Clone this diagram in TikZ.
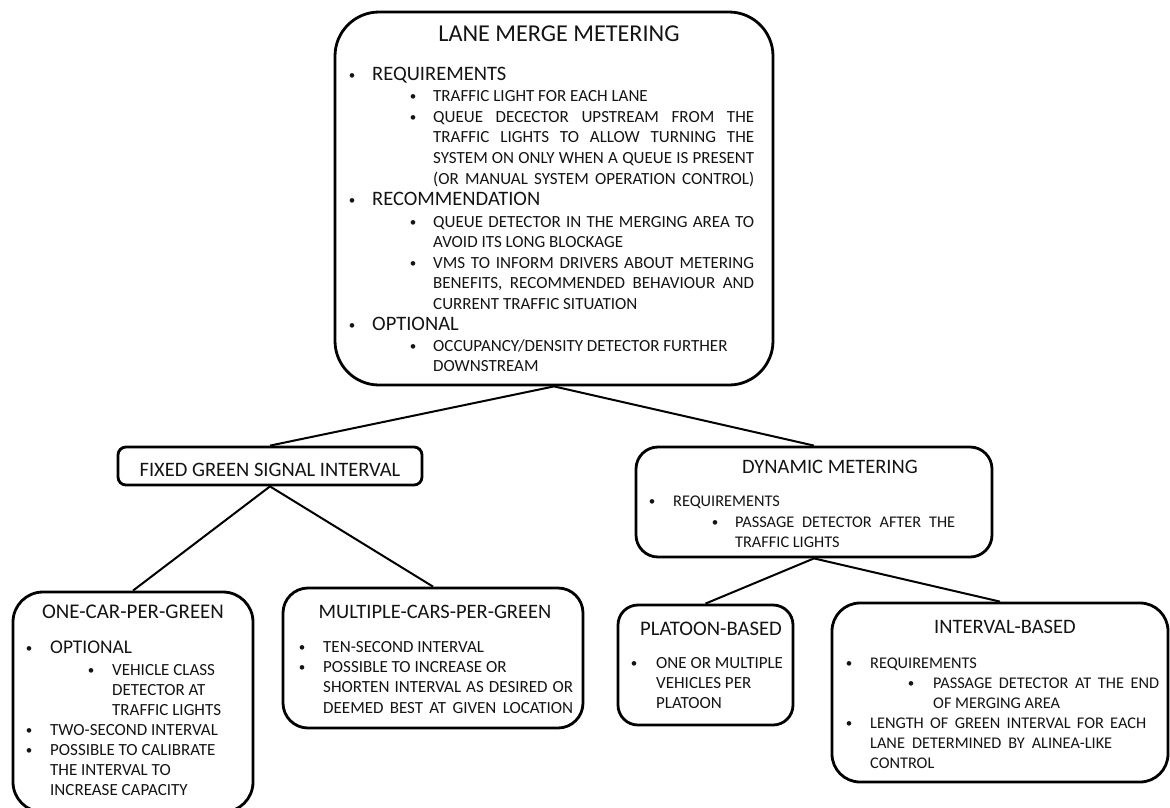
\documentclass[tikz,border=0pt]{standalone}
\usepackage{fontspec}
\setmainfont{Carlito}
\newcommand\fT{\fontsize{24.2}{28}\selectfont}
\newcommand\fH{\fontsize{20.5}{24}\selectfont}
\newcommand\fL{\fontsize{20.5}{20.8}\selectfont}
\newcommand\fS{\fontsize{17}{20.8}\selectfont}
\newcommand\fP{\fontsize{17}{20}\selectfont}
\newcommand\fM{\fontsize{16.3}{20}\selectfont}
\newcommand\fO{\fontsize{19.4}{20}\selectfont}
\newcommand\fB{\fontsize{13}{16}\selectfont}
\newcommand\J[2]{\makebox[#1pt][s]{#2}}
\tikzset{
  box/.style={draw=black, line width=2.8pt, inner sep=0pt},
  txt/.style={inner sep=0pt, text=black!92},
  link/.style={line width=2pt, draw=black}
}
\newcommand\itm[6]{%
  \node[txt,anchor=base] (#1b) at (#2,#4-1) {\fB\textbullet};
  \node[txt,anchor=base west] (#1) at (#3,#4) {#5\begin{tabular}[t]{@{}l@{}}#6\end{tabular}};
}
\begin{document}
\begin{tikzpicture}[x=1pt,y=-1pt]
\path[use as bounding box] (0,0) rectangle (1170,807);
\fill[white] (0,0) rectangle (1170,807);
\clip (0,0) rectangle (1170,807);

% boxes
\node[box, rounded corners=44pt, minimum width=438pt, minimum height=373pt] (main) at (554,198.5) {};
\node[box, rounded corners=8pt, minimum width=304pt, minimum height=38pt] (fixed) at (270,466) {};
\node[box, rounded corners=22pt, minimum width=356pt, minimum height=110pt] (dyn) at (814,502) {};
\node[box, rounded corners=30pt, minimum width=240pt, minimum height=220pt] (onecar) at (133,702) {};
\node[box, rounded corners=25pt, minimum width=300pt, minimum height=140pt] (multi) at (433,658) {};
\node[box, rounded corners=20pt, minimum width=175pt, minimum height=120pt] (platoon) at (705.5,665) {};
\node[box, rounded corners=28pt, minimum width=336pt, minimum height=179pt] (interval) at (1000,692.5) {};

% connectors
\draw[link] (main.south) -- (fixed.north);
\draw[link] (main.south) -- (dyn.north);
\draw[link] (fixed.south) -- (onecar.north);
\draw[link] (fixed.south) -- (multi.north);
\draw[link] (dyn.south) -- (platoon.north);
\draw[link] (dyn.south) -- (interval.north);

% main box text
\node[txt,anchor=base] (mt) at (559,41) {\fT LANE MERGE METERING};
\itm{r1}{352}{372}{80}{\fL}{REQUIREMENTS}
\itm{r1a}{413}{433}{101}{\fS}{TRAFFIC LIGHT FOR EACH LANE}
\itm{r1b}{413}{433}{122}{\fS}{\J{321}{QUEUE DECECTOR UPSTREAM FROM THE}\\\J{321}{TRAFFIC LIGHTS TO ALLOW TURNING THE}\\\J{321}{SYSTEM ON ONLY WHEN A QUEUE IS PRESENT}\\\J{321}{(OR MANUAL SYSTEM OPERATION CONTROL)}}
\itm{r2}{352}{372}{205}{\fL}{RECOMMENDATION}
\itm{r2a}{413}{433}{227}{\fS}{\J{321}{QUEUE DETECTOR IN THE MERGING AREA TO}\\AVOID ITS LONG BLOCKAGE}
\itm{r2b}{413}{433}{268}{\fS}{\J{321}{VMS TO INFORM DRIVERS ABOUT METERING}\\\J{321}{BENEFITS, RECOMMENDED BEHAVIOUR AND}\\CURRENT TRAFFIC SITUATION}
\itm{r3}{352}{372}{330}{\fL}{OPTIONAL}
\itm{r3a}{413}{433}{351}{\fS}{OCCUPANCY/DENSITY DETECTOR FURTHER\\DOWNSTREAM}

% fixed
\node[txt,anchor=base] (ft) at (270,476) {\fH FIXED GREEN SIGNAL INTERVAL};

% dynamic
\node[txt,anchor=base] (dt) at (830,473) {\fH DYNAMIC METERING};
\itm{d1}{652}{673}{506}{\fM}{REQUIREMENTS}
\itm{d1a}{715}{735}{527}{\fM}{\J{220}{PASSAGE DETECTOR AFTER THE}\\TRAFFIC LIGHTS}

% one car
\node[txt,anchor=base] (ot) at (133,618) {\fontsize{20.9}{24}\selectfont ONE-CAR-PER-GREEN};
\itm{o1}{29}{50}{653}{\fO}{OPTIONAL}
\itm{o1a}{91}{112}{675}{\fP}{VEHICLE CLASS\\DETECTOR AT\\TRAFFIC LIGHTS}
\itm{o2}{29}{50}{735}{\fP}{TWO-SECOND INTERVAL}
\itm{o3}{29}{50}{755}{\fP}{POSSIBLE TO CALIBRATE\\THE INTERVAL TO\\INCREASE CAPACITY}

% multiple
\node[txt,anchor=base] (mlt) at (435,618) {\fH MULTIPLE-CARS-PER-GREEN};
\itm{m1}{302}{323}{652}{\fS}{TEN-SECOND INTERVAL}
\itm{m2}{302}{323}{672}{\fS}{POSSIBLE TO INCREASE OR\\\J{250}{SHORTEN INTERVAL AS DESIRED OR}\\\J{250}{DEEMED BEST AT GIVEN LOCATION}}

% platoon
\node[txt,anchor=base] (pt) at (711,635) {\fontsize{20.7}{24}\selectfont PLATOON-BASED};
\itm{p1}{634}{656}{668}{\fP}{ONE OR MULTIPLE\\VEHICLES PER\\PLATOON}

% interval
\node[txt,anchor=base] (it) at (1005,633) {\fH INTERVAL-BASED};
\itm{i1}{849}{870}{668}{\fM}{REQUIREMENTS}
\itm{i1a}{911}{933}{688}{\fM}{\J{226}{PASSAGE DETECTOR AT THE END}\\OF MERGING AREA}
\itm{i2}{849}{870}{728}{\fM}{\J{276}{LENGTH OF GREEN INTERVAL FOR EACH}\\\J{242}{LANE DETERMINED BY ALINEA-LIKE}\\CONTROL}
\end{tikzpicture}
\end{document}
